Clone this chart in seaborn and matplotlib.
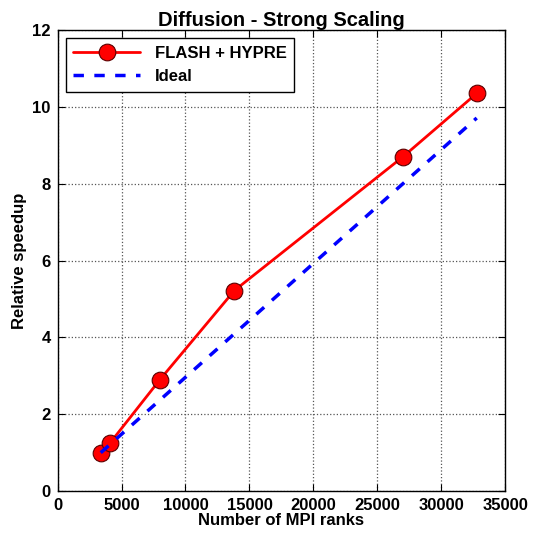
import pandas as pd
import seaborn as sns
import numpy as np
import matplotlib.pyplot as plt

sns.set_style(style='white')
plt.rcParams['font.family'] = ['Liberation Sans', 'DejaVu Sans']
plt.rcParams['font.weight'] = 'bold'
plt.rcParams['text.color'] = 'black'
plt.rcParams['axes.labelcolor'] = 'black'
plt.rcParams['xtick.color'] = 'black'
plt.rcParams['ytick.color'] = 'black'

ranks = [3375, 4096, 8000, 13824, 27000, 32768]
speedup = [1.0, 1.25, 2.9, 5.22, 8.7, 10.35]
ideal = [r / ranks[0] for r in ranks]

df = pd.DataFrame({'ranks': ranks, 'speedup': speedup, 'ideal': ideal})

fig = plt.figure(figsize=(5.33, 5.35), dpi=100)
ax = fig.add_axes([0.108, 0.082, 0.840, 0.862])

sns.lineplot(x='ranks', y='speedup', data=df, ax=ax, color='red', linewidth=2,
             marker='o', markersize=12, markerfacecolor='red',
             markeredgecolor='#5a0000', markeredgewidth=0.8, label='FLASH + HYPRE')
sns.lineplot(x='ranks', y='ideal', data=df, ax=ax, color='blue', linewidth=2.5,
             linestyle=(0, (3, 3)), label='Ideal')

ax.set_xlim(0, 35000)
ax.set_ylim(0, 12)
ax.set_xticks(np.arange(0, 35001, 5000))
ax.set_yticks(np.arange(0, 13, 2))
ax.grid(True, color='#555555', linestyle=':', linewidth=0.9)
for s in ax.spines.values():
    s.set_color('black')
    s.set_linewidth(1.0)
ax.tick_params(direction='in', length=5, color='black', labelsize=12, top=True, right=True,
               bottom=True, left=True, pad=5)
for lab in ax.get_xticklabels() + ax.get_yticklabels():
    lab.set_fontweight('bold')

ax.set_title('Diffusion - Strong Scaling', fontsize=14.5, fontweight='bold', pad=3)
ax.set_xlabel('Number of MPI ranks', fontsize=12, fontweight='bold', labelpad=0)
ax.set_ylabel('Relative speedup', fontsize=12, fontweight='bold', labelpad=4)

leg = ax.legend(loc='upper left', fontsize=12, frameon=True, fancybox=False,
                handlelength=4, borderpad=0.45, labelspacing=0.5, edgecolor='black',
                framealpha=1, handletextpad=0.9, borderaxespad=0.5)
leg.get_frame().set_linewidth(1.0)
for t in leg.get_texts():
    t.set_fontweight('bold')

fig.savefig('out.png', dpi=100)
